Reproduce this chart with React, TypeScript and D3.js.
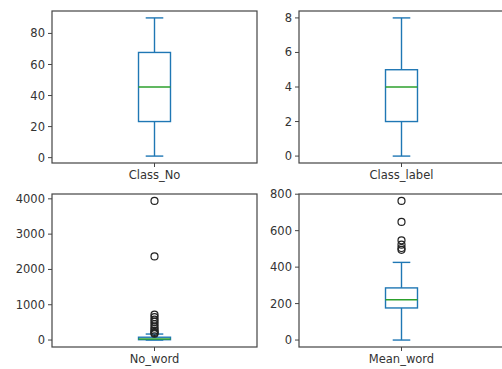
import React from "react";
import * as d3 from "d3";

const panelNames = ["Class_No", "Class_label", "No_word", "Mean_word"];
// box stats: [whisker low, Q1, median, Q3, whisker high]
const classNoStats = [1, 23.25, 45.5, 67.75, 90];
const classLabelStats = [0, 2, 4, 5, 8];
const noWordStats = [0, 10, 30, 80, 170];
const meanWordStats = [0, 176, 221, 286, 426];
const classNoFliers: number[] = [];
const classLabelFliers: number[] = [];
const noWordFliers = [180, 200, 230, 270, 320, 380, 450, 520, 580, 650, 720, 2370, 3940];
const meanWordFliers = [495, 505, 523, 547, 648, 763];
const classNoTicks = [0, 20, 40, 60, 80];
const classLabelTicks = [0, 2, 4, 6, 8];
const noWordTicks = [0, 1000, 2000, 3000, 4000];
const meanWordTicks = [0, 200, 400, 600, 800];

const statsList = [classNoStats, classLabelStats, noWordStats, meanWordStats];
const fliersList = [classNoFliers, classLabelFliers, noWordFliers, meanWordFliers];
const ticksList = [classNoTicks, classLabelTicks, noWordTicks, meanWordTicks];

const BLUE = "#1f77b4";
const GREEN = "#2ca02c";
const FONT = "DejaVu Sans";

type PanelProps = {
  name: string;
  stats: number[];
  fliers: number[];
  ticks: number[];
  x0: number;
  x1: number;
  y0: number;
  y1: number;
};

function Panel({ name, stats, fliers, ticks, x0, x1, y0, y1 }: PanelProps) {
  const all = [...stats, ...fliers];
  const lo = d3.min(all)!;
  const hi = d3.max(all)!;
  const m = (hi - lo) * 0.05;
  const y = d3.scaleLinear().domain([lo - m, hi + m]).range([y1, y0]);
  const x = d3.scaleLinear().domain([0.5, 1.5]).range([x0, x1]);
  const cx = x(1);
  const bw = x(1.078) - x(0.922);
  const cw = bw * 0.55;
  const [wl, q1, med, q3, wh] = stats;
  const fs = 11.5;
  const lw = 1.4;
  return (
    <g>
      <line x1={cx} x2={cx} y1={y(q1)} y2={y(wl)} stroke={BLUE} strokeWidth={lw} />
      <line x1={cx} x2={cx} y1={y(q3)} y2={y(wh)} stroke={BLUE} strokeWidth={lw} />
      <line x1={cx - cw / 2} x2={cx + cw / 2} y1={y(wl)} y2={y(wl)} stroke={BLUE} strokeWidth={lw} />
      <line x1={cx - cw / 2} x2={cx + cw / 2} y1={y(wh)} y2={y(wh)} stroke={BLUE} strokeWidth={lw} />
      <rect x={cx - bw / 2} y={y(q3)} width={bw} height={y(q1) - y(q3)} fill="none" stroke={BLUE} strokeWidth={lw} />
      <line x1={cx - bw / 2} x2={cx + bw / 2} y1={y(med)} y2={y(med)} stroke={GREEN} strokeWidth={lw} />
      {fliers.map((f, i) => (
        <circle key={i} cx={cx} cy={y(f)} r={3.5} fill="none" stroke="#222" strokeWidth={1.2} />
      ))}
      <rect x={x0} y={y0} width={x1 - x0} height={y1 - y0} fill="none" stroke="#444" strokeWidth={1.2} />
      {ticks.map((t) => (
        <g key={t}>
          <line x1={x0 - 4} x2={x0} y1={y(t)} y2={y(t)} stroke="#444" strokeWidth={1} />
          <text x={x0 - 7} y={y(t)} dy="0.35em" textAnchor="end" fontSize={fs} fontFamily={FONT} fill="#333">
            {t}
          </text>
        </g>
      ))}
      <line x1={cx} x2={cx} y1={y1} y2={y1 + 4} stroke="#444" strokeWidth={1} />
      <text x={cx} y={y1 + 16} textAnchor="middle" fontSize={fs} fontFamily={FONT} fill="#333">
        {name}
      </text>
    </g>
  );
}

export default function App() {
  const W = 502;
  const H = 369;
  const cols = [
    [52, 257],
    [299, 504],
  ];
  const rows = [
    [11, 163],
    [194, 347],
  ];
  return (
    <svg
      width={W}
      height={H}
      style={{ position: "absolute", left: 0, top: 0, background: "#fff" }}
    >
      <rect x={0} y={0} width={W} height={H} fill="#fff" />
      {panelNames.map((n, i) => {
        const c = cols[i % 2];
        const r = rows[Math.floor(i / 2)];
        return (
          <Panel
            key={n}
            name={n}
            stats={statsList[i]}
            fliers={fliersList[i]}
            ticks={ticksList[i]}
            x0={c[0]}
            x1={c[1]}
            y0={r[0]}
            y1={r[1]}
          />
        );
      })}
    </svg>
  );
}
